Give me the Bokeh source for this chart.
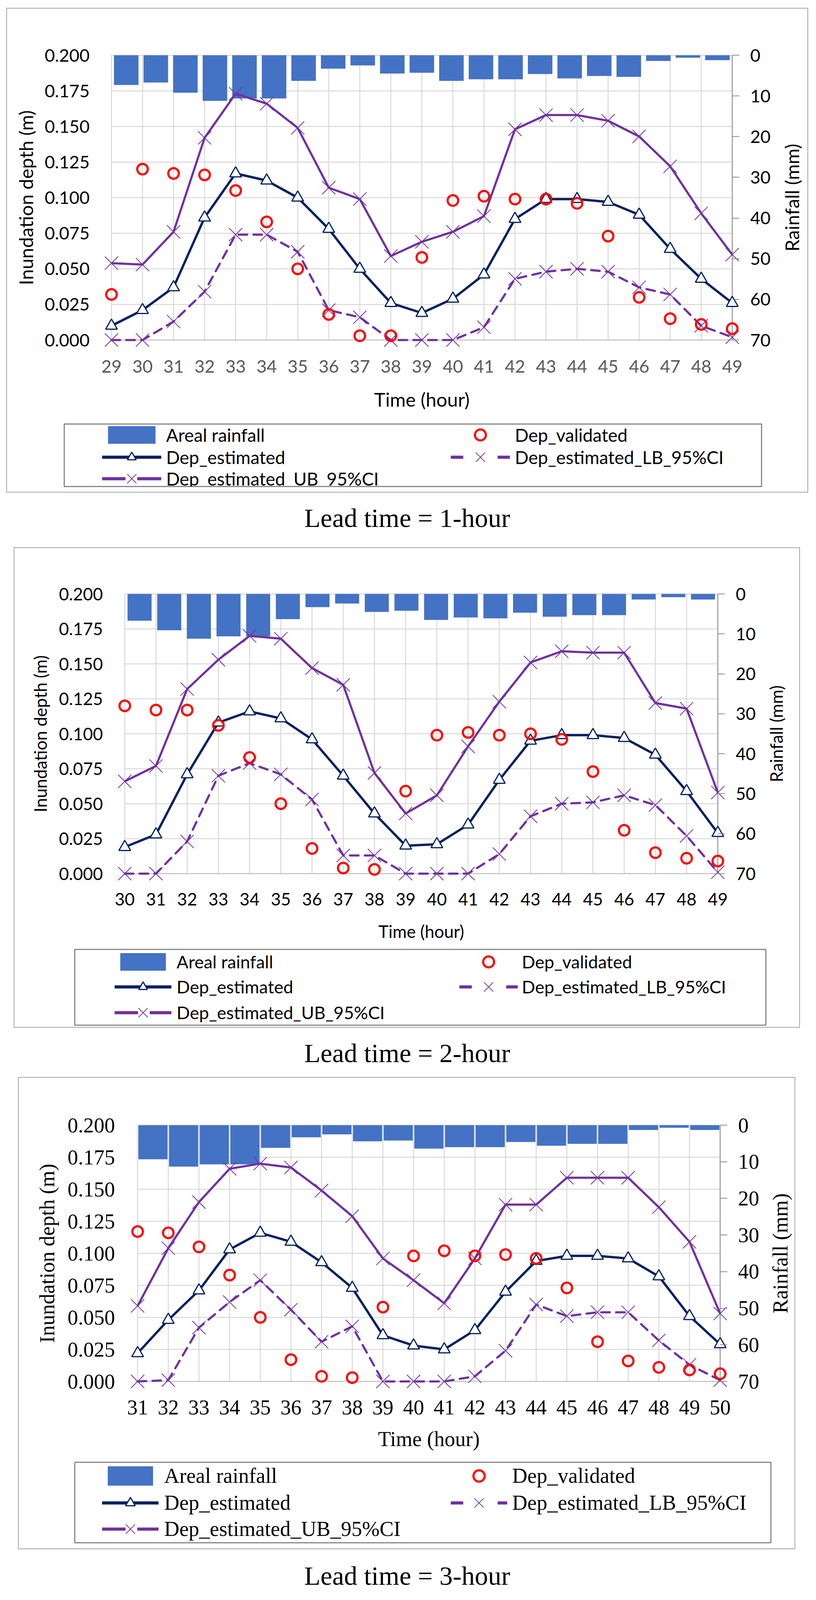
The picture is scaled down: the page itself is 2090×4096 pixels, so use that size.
import math
from bokeh.plotting import figure
from bokeh.models import (Range1d, LinearAxis, FixedTicker, PrintfTickFormatter,
                          Legend, LegendItem, Label, ColumnDataSource, Spacer)
from bokeh.layouts import column, row
from bokeh.embed import file_html
from bokeh.resources import INLINE

# ------------------------------------------------------------------ data
depth_ticks = [0.000, 0.025, 0.050, 0.075, 0.100, 0.125, 0.150, 0.175, 0.200]
rain_ticks = [0, 10, 20, 30, 40, 50, 60, 70]

legend_labels = ["Areal rainfall", "Dep_validated", "Dep_estimated",
                 "Dep_estimated_LB_95%CI", "Dep_estimated_UB_95%CI"]

# Lead time = 1-hour
hours_1h = [29, 30, 31, 32, 33, 34, 35, 36, 37, 38, 39, 40, 41, 42, 43, 44, 45, 46, 47, 48, 49]
rain_1h = [7.3, 6.7, 9.2, 11.2, 10.6, 10.6, 6.3, 3.3, 2.5, 4.5, 4.3, 6.3, 5.9, 5.9, 4.6, 5.7, 5.1, 5.3, 1.4, 0.6, 1.2]
est_1h = [0.010, 0.021, 0.037, 0.086, 0.117, 0.112, 0.100, 0.078, 0.050, 0.026, 0.019,
          0.029, 0.046, 0.085, 0.099, 0.099, 0.097, 0.088, 0.064, 0.043, 0.026]
ub_1h = [0.054, 0.053, 0.076, 0.142, 0.173, 0.166, 0.149, 0.107, 0.099, 0.059, 0.069,
         0.076, 0.087, 0.148, 0.158, 0.158, 0.154, 0.143, 0.122, 0.089, 0.060]
lb_1h = [0.000, 0.000, 0.013, 0.034, 0.074, 0.074, 0.062, 0.021, 0.016, 0.000, 0.000,
         0.000, 0.009, 0.043, 0.048, 0.050, 0.048, 0.037, 0.032, 0.010, 0.002]
val_1h = [0.032, 0.120, 0.117, 0.116, 0.105, 0.083, 0.050, 0.018, 0.003, 0.003, 0.058,
          0.098, 0.101, 0.099, 0.099, 0.096, 0.073, 0.030, 0.015, 0.011, 0.008]

# Lead time = 2-hour
hours_2h = [30, 31, 32, 33, 34, 35, 36, 37, 38, 39, 40, 41, 42, 43, 44, 45, 46, 47, 48, 49]
rain_2h = [6.7, 9.1, 11.2, 10.6, 10.6, 6.3, 3.3, 2.4, 4.5, 4.2, 6.5, 5.9, 6.1, 4.7, 5.7, 5.3, 5.3, 1.4, 0.8, 1.4]
est_2h = [0.019, 0.028, 0.071, 0.108, 0.116, 0.111, 0.096, 0.070, 0.043, 0.020,
          0.021, 0.035, 0.067, 0.095, 0.099, 0.099, 0.097, 0.085, 0.059, 0.029]
ub_2h = [0.066, 0.077, 0.132, 0.153, 0.170, 0.168, 0.147, 0.135, 0.072, 0.043,
         0.056, 0.091, 0.123, 0.151, 0.159, 0.158, 0.158, 0.122, 0.118, 0.058]
lb_2h = [0.000, 0.000, 0.023, 0.070, 0.079, 0.071, 0.053, 0.013, 0.013, 0.000,
         0.000, 0.000, 0.014, 0.041, 0.050, 0.051, 0.056, 0.049, 0.027, 0.001]
val_2h = [0.120, 0.117, 0.117, 0.106, 0.083, 0.050, 0.018, 0.004, 0.003, 0.059,
          0.099, 0.101, 0.099, 0.100, 0.096, 0.073, 0.031, 0.015, 0.011, 0.009]

# Lead time = 3-hour
hours_3h = [31, 32, 33, 34, 35, 36, 37, 38, 39, 40, 41, 42, 43, 44, 45, 46, 47, 48, 49, 50]
rain_3h = [9.3, 11.3, 10.7, 10.7, 6.2, 3.3, 2.5, 4.4, 4.2, 6.4, 6.0, 6.0, 4.6, 5.6, 5.1, 5.1, 1.3, 0.7, 1.3]
est_3h = [0.022, 0.048, 0.071, 0.103, 0.116, 0.109, 0.093, 0.073, 0.036, 0.028,
          0.025, 0.040, 0.070, 0.094, 0.098, 0.098, 0.096, 0.082, 0.051, 0.029]
ub_3h = [0.059, 0.104, 0.140, 0.166, 0.170, 0.167, 0.149, 0.129, 0.096, 0.079,
         0.061, 0.096, 0.138, 0.138, 0.159, 0.159, 0.159, 0.136, 0.109, 0.053]
lb_3h = [0.000, 0.001, 0.042, 0.062, 0.079, 0.056, 0.031, 0.043, 0.000, 0.000,
         0.000, 0.004, 0.024, 0.060, 0.051, 0.054, 0.054, 0.032, 0.013, 0.001]
val_3h = [0.117, 0.116, 0.105, 0.083, 0.050, 0.017, 0.004, 0.003, 0.058, 0.098,
          0.102, 0.098, 0.099, 0.096, 0.073, 0.031, 0.016, 0.011, 0.009, 0.006]

captions = ["Lead time = 1-hour", "Lead time = 2-hour", "Lead time = 3-hour"]

# ------------------------------------------------------------------ style
NAVY = "#002060"
PURPLE = "#7030A0"
RED = "#FF0000"
BAR = "#4472C4"
GRID = "#D9D9D9"
AX_BOTTOM = "#BFBFBF"
AX_RIGHT = "#898989"
FRAME = "#A6A6A6"
LEGBOX = "#888888"

S = 0.778          # reference -> window scale
PAGE_W = 2090      # Bokeh's page template has no body margin
PAGE_BOTTOM = 4094
M = 18             # hidden frame margin so edge markers are not clipped


def P(v):
    return v * S


# layout positions given in reference pixels
panels = [
    dict(hours=hours_1h, rain=rain_1h, est=est_1h, ub=ub_1h, lb=lb_1h, val=val_1h,
         outer=(22, 2659, 27, 1619), plot=(366, 2410, 181, 1118), split_y=1362, split_x=2558,
         rtitle_x=2606, legbox=(211, 2506, 1395, 1600), rows=(1431, 1504, 1575),
         col1=(336, 531, 547), col2=(1483, 1679, 1696), cap_y=1704,
         bar_w=0.83, font="Lato", tick_fs=45, title_fs=49, leg_fs=46, xtick_color="#595959",
         gap=dict(yt=55.5, xt=50.6, xl=36, yl=16, rt=46), gh=(56, 84, 70), rtick_out=0),
    dict(hours=hours_2h, rain=rain_2h, est=est_2h, ub=ub_2h, lb=lb_2h, val=val_2h,
         outer=(46, 2633, 1802, 3380), plot=(410, 2363, 1954, 2874), split_y=3105, split_x=2506,
         rtitle_x=2554.5, legbox=(245, 2521, 3123, 3373), rows=(3165, 3247, 3331),
         col1=(377, 565, 582), col2=(1511, 1704, 1718), cap_y=3465,
         bar_w=0.81, font="Lato", tick_fs=44, title_fs=44, leg_fs=45, xtick_color="#000000",
         gap=dict(yt=56.5, xt=49, xl=37, yl=19, rt=46), gh=(56, 84, 70), rtick_out=0),
    dict(hours=hours_3h, rain=rain_3h, est=est_3h, ub=ub_3h, lb=lb_3h, val=val_3h,
         outer=(60, 2617, 3545, 5097), plot=(452, 2370, 3702, 4545), split_y=4789, split_x=2518,
         rtitle_x=2568.5, legbox=(245, 2537, 4811, 5076), rows=(4856, 4945, 5031),
         col1=(336, 522, 540), col2=(1483, 1670, 1687), cap_y=5185,
         bar_w=0.95, font="Liberation Serif", tick_fs=54, title_fs=54, leg_fs=54, xtick_color="#000000",
         gap=dict(yt=58, xt=47.5, xl=30, yl=19, rt=46), gh=(62, 84, 72), rtick_out=0),
]


def blank(w, h, l=0, r=0, t=0, b=0):
    f = figure(width=int(w), height=int(h), output_backend="svg", toolbar_location=None,
               x_axis_type=None, y_axis_type=None, x_range=Range1d(-2, -1), y_range=Range1d(-2, -1),
               min_border_left=int(l), min_border_right=int(r), min_border_top=int(t),
               min_border_bottom=int(b))
    f.outline_line_color = None
    f.background_fill_color = "white"
    f.border_fill_color = "white"
    return f


def line_box(w, h):
    return Spacer(width=int(w), height=int(h), styles={"background-color": FRAME})


def build(cfg):
    font = cfg["font"]
    OL, OR, OT, OB = [int(round(P(v))) for v in cfg["outer"]]
    iw = OR - OL - 2
    split = int(round(P(cfg["split_y"])))
    xs = int(round(P(cfg["split_x"])))
    hc = split - (OT + 1)
    hl = (OB - 1) - split
    wc = xs - (OL + 1)
    wr = iw - wc

    PL, PR, PT, PB = P(cfg["plot"][0]), P(cfg["plot"][1]), P(cfg["plot"][2]), P(cfg["plot"][3])
    lb_ = int(round(PL - (OL + 1) - M))
    rb_ = int(round(xs - PR - M))
    tb_ = int(round(PT - (OT + 1) - M))
    bb_ = int(round(split - PB - M))
    fw = wc - lb_ - rb_
    fh = hc - tb_ - bb_
    pw = fw - 2 * M
    ph = fh - 2 * M

    hours = cfg["hours"]
    h0, h1 = hours[0], hours[-1]
    y0, y1 = depth_ticks[0], depth_ticks[-1]
    r0, r1 = rain_ticks[0], rain_ticks[-1]
    nb = len(cfg["rain"])
    dx = M * (h1 - h0) / pw
    dy = M * (y1 - y0) / ph
    dr = M * (r1 - r0) / ph
    db = M * nb / pw

    p = figure(width=wc, height=hc, output_backend="svg", toolbar_location=None,
               x_range=Range1d(h0 - dx, h1 + dx), y_range=Range1d(y0 - dy, y1 + dy),
               min_border_left=lb_, min_border_right=rb_, min_border_top=tb_, min_border_bottom=bb_)
    p.extra_y_ranges = {"rain": Range1d(start=r1 + dr, end=r0 - dr)}
    p.extra_x_ranges = {"bars": Range1d(start=-db, end=nb + db)}
    p.outline_line_color = None
    p.background_fill_color = "white"
    p.border_fill_color = "white"
    p.xgrid.visible = False
    p.ygrid.visible = False

    # grid lines limited to the plotting area
    vsrc = ColumnDataSource(dict(x0=hours, x1=hours, y0=[y0] * len(hours), y1=[y1] * len(hours)))
    hsrc = ColumnDataSource(dict(x0=[h0] * (len(depth_ticks) - 1), x1=[h1] * (len(depth_ticks) - 1),
                                 y0=depth_ticks[1:], y1=depth_ticks[1:]))
    p.segment("x0", "y0", "x1", "y1", source=vsrc, line_color=GRID, line_width=2.5)
    p.segment("x0", "y0", "x1", "y1", source=hsrc, line_color=GRID, line_width=2.5)
    p.segment(x0=h0, y0=y0, x1=h1, y1=y0, line_color=AX_BOTTOM, line_width=2.5)
    p.segment(x0=h1, y0=y0, x1=h1, y1=y1, line_color=AX_RIGHT, line_width=2)

    # rainfall bars hanging from the top (secondary axes)
    bsrc = ColumnDataSource(dict(x=[i + 0.5 for i in range(nb)], rain=cfg["rain"]))
    bar_kw = dict(width=cfg["bar_w"], top=0, bottom="rain", source=bsrc, fill_color=BAR, line_color=None)
    p.vbar(x="x", x_range_name="bars", y_range_name="rain", **bar_kw)

    src = ColumnDataSource(dict(h=hours, est=cfg["est"], ub=cfg["ub"], lb=cfg["lb"], val=cfg["val"]))
    sty = dict(
        ubl=dict(line_color=PURPLE, line_width=5.5),
        ubm=dict(marker="x", size=48, line_color=PURPLE, line_width=2),
        lbl=dict(line_color=PURPLE, line_width=5.5, line_dash="22 16", line_cap="round"),
        lbm=dict(marker="x", size=48, line_color=PURPLE, line_width=2),
        esl=dict(line_color=NAVY, line_width=6),
        esm=dict(marker="triangle", size=30, fill_color="white", line_color=NAVY, line_width=3),
        val=dict(marker="circle", size=27, fill_color=None, line_color=RED, line_width=5.5),
    )
    p.line("h", "ub", source=src, **sty["ubl"])
    p.scatter("h", "ub", source=src, **sty["ubm"])
    p.line("h", "lb", source=src, **sty["lbl"])
    p.scatter("h", "lb", source=src, **sty["lbm"])
    p.line("h", "est", source=src, **sty["esl"])
    p.scatter("h", "est", source=src, **sty["esm"])
    p.scatter("h", "val", source=src, **sty["val"])

    g = cfg["gap"]
    # bottom axis
    xa = p.xaxis[0]
    xa.ticker = FixedTicker(ticks=hours)
    xa.axis_line_color = None
    xa.major_tick_line_color = None
    xa.major_tick_in = 0
    xa.major_tick_out = 0
    xa.minor_tick_line_color = None
    xa.major_label_standoff = int(round(g["xt"] - M))
    xa.major_label_text_font = font
    xa.major_label_text_font_size = f"{cfg['tick_fs']}px"
    xa.major_label_text_color = cfg["xtick_color"]
    xa.axis_label = "Time (hour)"
    xa.axis_label_text_font = font
    xa.axis_label_text_font_size = f"{cfg['title_fs']}px"
    xa.axis_label_text_font_style = "normal"
    xa.axis_label_text_color = "#000000"
    xa.axis_label_standoff = int(round(g["xl"]))

    # left axis
    ya = p.yaxis[0]
    ya.ticker = FixedTicker(ticks=depth_ticks)
    ya.formatter = PrintfTickFormatter(format="%.3f")
    ya.axis_line_color = None
    ya.major_tick_line_color = None
    ya.major_tick_in = 0
    ya.major_tick_out = 0
    ya.minor_tick_line_color = None
    ya.major_label_standoff = int(round(g["yt"] - M))
    ya.major_label_text_font = font
    ya.major_label_text_font_size = f"{cfg['tick_fs']}px"
    ya.major_label_text_color = "#000000"
    ya.axis_label = "Inundation depth (m)"
    ya.axis_label_text_font = font
    ya.axis_label_text_font_size = f"{cfg['title_fs']}px"
    ya.axis_label_text_font_style = "normal"
    ya.axis_label_text_color = "#000000"
    ya.axis_label_standoff = int(round(g["yl"]))

    # right axis (rainfall, reversed)
    ra = LinearAxis(y_range_name="rain", ticker=FixedTicker(ticks=rain_ticks))
    ra.axis_line_color = None
    ra.major_tick_line_color = AX_RIGHT
    ra.major_tick_line_width = 2
    ra.major_tick_in = M
    ra.major_tick_out = cfg["rtick_out"]
    ra.minor_tick_line_color = None
    ra.major_label_standoff = int(round(g["rt"] - M - cfg["rtick_out"]))
    ra.major_label_text_font = font
    ra.major_label_text_font_size = f"{cfg['tick_fs']}px"
    ra.major_label_text_color = "#000000"
    p.add_layout(ra, "right")

    # right-hand axis title, read bottom-to-top
    rt = blank(wr, hc, 0, 0, tb_, bb_)
    rt.add_layout(Label(x=P(cfg["rtitle_x"]) - xs, y=fh / 2, x_units="screen", y_units="screen",
                        text="Rainfall (mm)", angle=math.pi / 2, text_align="center",
                        text_baseline="middle", text_font=font,
                        text_font_size=f"{cfg['title_fs']}px", text_color="#000000"))

    # legend panel: its frame is the legend box
    LBL, LBR, LBT, LBB = [P(v) for v in cfg["legbox"]]
    l_lb = int(round(LBL - (OL + 1)))
    l_rb = int(round((OL + 1 + iw) - LBR))
    l_tb = int(round(LBT - split))
    l_bb = int(round((OB - 1) - LBB))
    lf = blank(iw, hl, l_lb, l_rb, l_tb, l_bb)
    lf.outline_line_color = LEGBOX
    lf.outline_line_width = 3
    # legend keys: the same series drawn outside this panel's visible range, with key styling
    q_bar = lf.vbar(x="x", **bar_kw)
    q_ubl = lf.line("h", "ub", source=src, line_color=PURPLE, line_width=8, line_dash="60 30 70")
    q_ubm = lf.scatter("h", "ub", source=src, **sty["ubm"])
    q_lbl = lf.line("h", "lb", source=src, line_color=PURPLE, line_width=8, line_dash="32 88")
    q_lbm = lf.scatter("h", "lb", source=src, **sty["lbm"])
    q_esl = lf.line("h", "est", source=src, line_color=NAVY, line_width=8)
    q_esm = lf.scatter("h", "est", source=src, **sty["esm"])
    q_val = lf.scatter("h", "val", source=src, **sty["val"])

    frame_left = OL + 1 + l_lb
    frame_bottom = split + hl - l_bb
    gh_small, gh_x, gh_circ = cfg["gh"]

    def add_leg(label, renderers, col, row_ref, gh):
        gx0, gx1, tx = P(col[0]), P(col[1]), P(col[2])
        yc = P(row_ref)
        leg = Legend(items=[LegendItem(label=label, renderers=renderers)],
                     location=(gx0 - frame_left, frame_bottom - (yc + gh / 2)),
                     glyph_width=int(round(gx1 - gx0)), glyph_height=int(gh),
                     label_standoff=int(round(tx - gx1)), label_height=int(gh),
                     padding=0, margin=0, spacing=0, border_line_color=None,
                     background_fill_alpha=0, label_text_font=font,
                     label_text_font_size=f"{cfg['leg_fs']}px", label_text_color="#000000")
        lf.add_layout(leg)

    rows_ = cfg["rows"]
    add_leg(legend_labels[0], [q_bar], cfg["col1"], rows_[0], gh_small)
    add_leg(legend_labels[1], [q_val], cfg["col2"], rows_[0], gh_circ)
    add_leg(legend_labels[2], [q_esl, q_esm], cfg["col1"], rows_[1], gh_small)
    add_leg(legend_labels[3], [q_lbl, q_lbm], cfg["col2"], rows_[1], gh_x)
    add_leg(legend_labels[4], [q_ubl, q_ubm], cfg["col1"], rows_[2], gh_x)

    inner = column(line_box(iw, 2), row(p, rt), row(lf), line_box(iw, 2))
    framed = row(Spacer(width=OL - 1, height=1), line_box(2, OB - OT + 2), inner,
                 line_box(2, OB - OT + 2))
    return framed, (OT, OB)


built = [build(cfg) for cfg in panels]

children = [Spacer(width=PAGE_W, height=built[0][1][0] - 1)]
for i, ((framed, (OT, OB)), cfg, cap) in enumerate(zip(built, panels, captions)):
    children.append(framed)
    top = OB + 1
    bottom = built[i + 1][1][0] - 1 if i + 1 < len(built) else PAGE_BOTTOM
    cf = blank(PAGE_W, bottom - top)
    cf.add_layout(Label(x=P(1340), y=bottom - P(cfg["cap_y"]), x_units="screen", y_units="screen",
                        text=cap, text_align="center", text_baseline="middle",
                        text_font="Liberation Serif", text_font_size="68px", text_color="#000000"))
    children.append(cf)

layout = column(*children, spacing=0)
open("out.html", "w").write(file_html(layout, INLINE, "Inundation depth"))
